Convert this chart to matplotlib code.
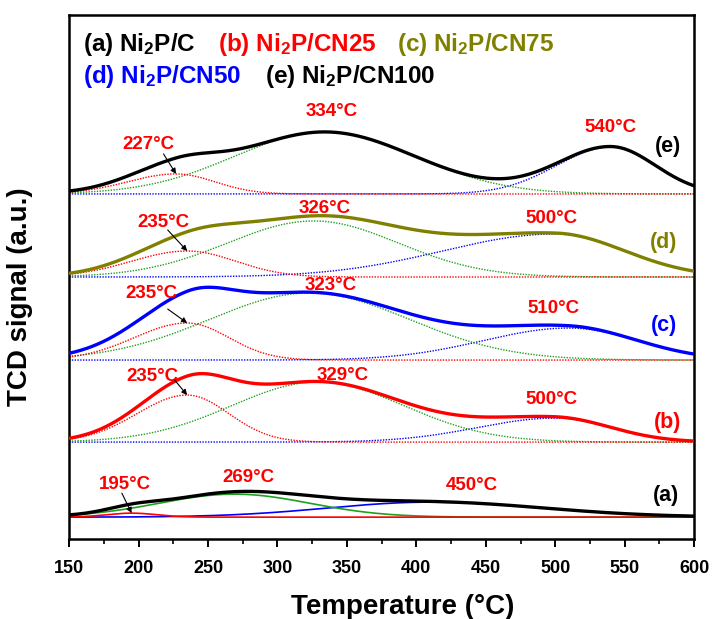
import numpy as np
import matplotlib
matplotlib.use("Agg")
import matplotlib.pyplot as plt
from matplotlib.ticker import MultipleLocator

plt.rcParams["font.family"] = ["Liberation Sans", "DejaVu Sans"]
plt.rcParams["font.weight"] = "bold"
plt.rcParams["axes.labelweight"] = "bold"
plt.rcParams["mathtext.fontset"] = "custom"
plt.rcParams["mathtext.rm"] = "Liberation Sans:bold"
plt.rcParams["mathtext.it"] = "Liberation Sans:bold"
plt.rcParams["mathtext.bf"] = "Liberation Sans:bold"

RED = "#ff0000"
GREEN = "#1fa01f"
BLUE = "#0000ff"
OLIVE = "#808000"

# samples, stacked bottom (a) to top (e)
samples = ["a", "b", "c", "d", "e"]
offsets = [22, 97, 179, 262, 345]
env_colors = ["black", RED, BLUE, OLIVE, "black"]

# fitted peaks: centre (°C), height, left / right width
red_center = [195, 235, 235, 235, 227]
red_height = [4, 47, 37, 26, 20]
red_wl = [18, 36, 38, 40, 35]
red_wr = [18, 30, 30, 35, 28]

green_center = [269, 329, 323, 326, 334]
green_height = [23, 60, 67, 56, 62]
green_wl = [54, 62, 72, 62, 65]
green_wr = [54, 62, 72, 61, 65]

blue_center = [410, 500, 510, 500, 540]
blue_height = [15, 24, 32, 43, 47]
blue_wl = [74, 56, 62, 81, 39]
blue_wr = [82, 40, 49, 50, 32]

# peak labels per sample: (text, T, y)
peak_labels = [
    [("195°C", 190, 55), ("269°C", 279, 62), ("450°C", 440, 54)],
    [("235°C", 210, 163), ("329°C", 347, 164), ("500°C", 497, 140)],
    [("235°C", 209, 246), ("323°C", 338, 254), ("510°C", 499, 231)],
    [("235°C", 218, 316), ("326°C", 334, 330), ("500°C", 497, 320)],
    [("227°C", 207, 394), ("334°C", 339, 427), ("540°C", 540, 411)],
]
arrow_start = [(188, 46), (226, 159), (221, 230), (221, 309), (218, 385)]
tag_pos = [(580, 44), (581, 117), (578, 214), (578, 296), (581, 392)]

legend_rows = [
    [("(a) Ni$_2$P/C", "black", 160, 494), ("(b) Ni$_2$P/CN25", RED, 257, 494),
     ("(c) Ni$_2$P/CN75", OLIVE, 386, 494)],
    [("(d) Ni$_2$P/CN50", BLUE, 160, 462), ("(e) Ni$_2$P/CN100", "black", 291, 462)],
]

T = np.linspace(150, 600, 901)


def peak(c, h, wl, wr):
    w = np.where(T < c, wl, wr)
    return h * np.exp(-(T - c) ** 2 / (2.0 * w ** 2))


fig = plt.figure(figsize=(7.12, 6.19), dpi=100)
ax = fig.add_axes([0.097, 0.129, 0.878, 0.847])

for i, s in enumerate(samples):
    base = offsets[i]
    r = peak(red_center[i], red_height[i], red_wl[i], red_wr[i])
    g = peak(green_center[i], green_height[i], green_wl[i], green_wr[i])
    b = peak(blue_center[i], blue_height[i], blue_wl[i], blue_wr[i])
    if s == "a":
        ls, lw = "-", 1.2
    else:
        ls, lw = (0, (1, 1)), 1.0
    ax.plot(T, base + b, color=BLUE, ls=ls, lw=lw, zorder=2)
    ax.plot(T, base + g, color=GREEN, ls=ls, lw=lw, zorder=2)
    ax.plot(T, base + r, color=RED, ls=ls, lw=lw, zorder=2)
    ax.plot(T, base + r + g + b, color=env_colors[i], lw=2.4, zorder=3)

    for txt, tx, ty in peak_labels[i]:
        ax.text(tx, ty, txt, color=RED, fontsize=13.5, ha="center", va="center")
    ax.annotate("", xy=(red_center[i], base + red_height[i]), xytext=arrow_start[i],
                arrowprops=dict(arrowstyle="-|>", color="black", lw=0.8,
                                mutation_scale=8, shrinkA=0, shrinkB=0), zorder=4)
    tx, ty = tag_pos[i]
    ax.text(tx, ty, f"({s})", color=env_colors[i], fontsize=15.5,
            fontweight="bold", ha="center", va="center")

for row in legend_rows:
    for txt, col, tx, ty in row:
        ax.text(tx, ty, txt, color=col, fontsize=17.5, ha="left", va="center")

ax.set_xlim(150, 600)
ax.set_ylim(0, 524)
ax.set_yticks([])
ax.xaxis.set_major_locator(MultipleLocator(50))
ax.xaxis.set_minor_locator(MultipleLocator(25))
ax.tick_params(axis="x", which="major", direction="out", length=6, width=1.4,
               labelsize=13, pad=9)
ax.tick_params(axis="x", which="minor", direction="out", length=3.5, width=1.2)
for sp in ax.spines.values():
    sp.set_linewidth(1.8)

ax.set_xlabel("Temperature (°C)", fontsize=20)
ax.set_ylabel("TCD signal (a.u.)", fontsize=20)
ax.xaxis.set_label_coords(0.534, -0.105)
ax.yaxis.set_label_coords(-0.058, 0.462)

fig.savefig("out.png", dpi=100)
